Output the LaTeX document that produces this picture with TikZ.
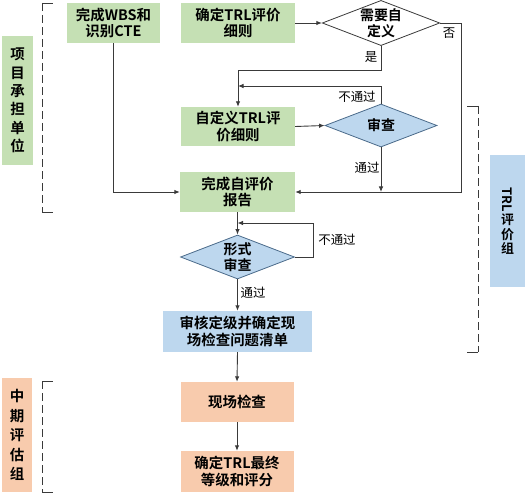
\documentclass[tikz,border=0pt]{standalone}
\usepackage{fontspec}
\usetikzlibrary{shapes.geometric,arrows.meta}
\newfontfamily\cjkb{Noto Sans CJK SC Bold}
\newfontfamily\cjk{Noto Sans CJK SC}
\definecolor{gfill}{HTML}{C5E0B4}
\definecolor{bfill}{HTML}{BDD7EE}
\definecolor{pfill}{HTML}{F8CBAD}
\definecolor{lcol}{HTML}{3A3A3A}
\definecolor{dcol}{HTML}{4A6A8A}
\tikzset{
  boxg/.style={rectangle, fill=gfill, draw=none, inner sep=0pt, align=center, font=\cjkb\fontsize{14.5}{16.5}\selectfont},
  boxb/.style={boxg, fill=bfill},
  boxp/.style={boxg, fill=pfill},
  dia/.style={diamond, shape aspect=2.6, inner sep=0pt, align=center, draw=lcol, line width=0.8bp, font=\cjkb\fontsize{14}{16}\selectfont},
  diab/.style={dia, fill=bfill, draw=dcol},
  lab/.style={font=\cjk\fontsize{12.5}{14}\selectfont, inner sep=1pt},
  vlab/.style={rectangle, draw=none, inner sep=0pt, align=center, font=\cjkb\fontsize{14.5}{18.5}\selectfont},
  conn/.style={draw=lcol, line width=0.9bp, -{Latex[length=5.5bp,width=4.5bp]}},
  brk/.style={draw=lcol, line width=0.9bp, dash pattern=on 8bp off 4bp},
  tick/.style={draw=lcol, line width=0.9bp}
}
\begin{document}
\begin{tikzpicture}[x=1bp,y=-1bp]
\useasboundingbox (0,0) rectangle (525,500);
% side labels
\node[vlab, fill=gfill, minimum width=31bp, minimum height=129bp] (lab1) at (17.5,100.5) {项\\目\\承\\担\\单\\位};
\node[vlab, fill=pfill, minimum width=30bp, minimum height=114bp, font=\cjkb\fontsize{14.5}{19.5}\selectfont] (lab2) at (17,435) {中\\期\\评\\估\\组};
\node[vlab, fill=bfill, minimum width=35bp, minimum height=132bp, font=\cjkb\fontsize{13}{14.5}\selectfont] (lab3) at (507.5,221) {\rotatebox{-90}{TRL}\\[1bp]评\\价\\组};
% brackets
\draw[brk] (42,3) -- (42,212);
\draw[tick] (42,3) -- (53,3);
\draw[tick] (42,212) -- (53,212);
\draw[brk] (478,106) -- (478,352);
\draw[tick] (478,106) -- (467,106);
\draw[tick] (478,352) -- (467,352);
\draw[brk] (42,381) -- (42,492);
\draw[tick] (42,381) -- (53,381);
\draw[tick] (42,492) -- (53,492);
% main nodes
\node[boxg, minimum width=93bp, minimum height=40bp] (wbs) at (113.5,23) {完成WBS和\\识别CTE};
\node[boxg, minimum width=114bp, minimum height=40bp] (trl) at (238,23) {确定TRL评价\\细则};
\node[dia, fill=white, minimum width=112bp, minimum height=44bp] (need) at (381,23) {需要自\\定义};
\node[boxg, minimum width=114bp, minimum height=39bp] (custom) at (238,126.5) {自定义TRL评\\价细则};
\node[diab, minimum width=112bp, minimum height=43bp] (review) at (381,125.5) {审查};
\node[boxg, minimum width=115bp, minimum height=40bp] (self) at (237.5,192) {完成自评价\\报告};
\node[diab, minimum width=114bp, minimum height=44bp] (form) at (237.5,257) {形式\\审查};
\node[boxb, minimum width=149bp, minimum height=41bp] (audit) at (237.5,331.5) {审核定级并确定现\\场检查问题清单};
\node[boxp, minimum width=113bp, minimum height=40bp] (site) at (237,402) {现场检查};
\node[boxp, minimum width=113bp, minimum height=41bp] (final) at (237,471.5) {确定TRL最终\\等级和评分};
% junction coordinates
\coordinate (j1) at (238,86);
\coordinate (j2) at (237.5,223);
% connectors
\draw[conn] (trl.east) -- (need.west);
\draw[conn] (need.east) -- ++(21,0) |- (self.east);
\draw[conn] (need.south) -- ++(0,24) -| (custom.north);
\draw[conn] (review.north) |- (j1);
\draw[conn] (custom.east) -- (review.west);
\draw[conn] (review.south) -- (review.south |- self.east);
\draw[conn] (wbs.south) |- (self.west);
\draw[conn] (self.south) -- (form.north);
\draw[conn] (form.east) -- ++(19,0) |- (j2);
\draw[conn] (form.south) -- (audit.north);
\draw[conn] (audit.south) -- (site.north);
\draw[conn] (site.south) -- (final.north);
% labels
\node[lab] (lno1) at (449,33) {否};
\node[lab] (lyes) at (371,57) {是};
\node[lab] (lnp1) at (357,97) {不通过};
\node[lab] (lp1) at (367,168) {通过};
\node[lab] (lnp2) at (337,240) {不通过};
\node[lab] (lp2) at (253,293) {通过};
\end{tikzpicture}
\end{document}
